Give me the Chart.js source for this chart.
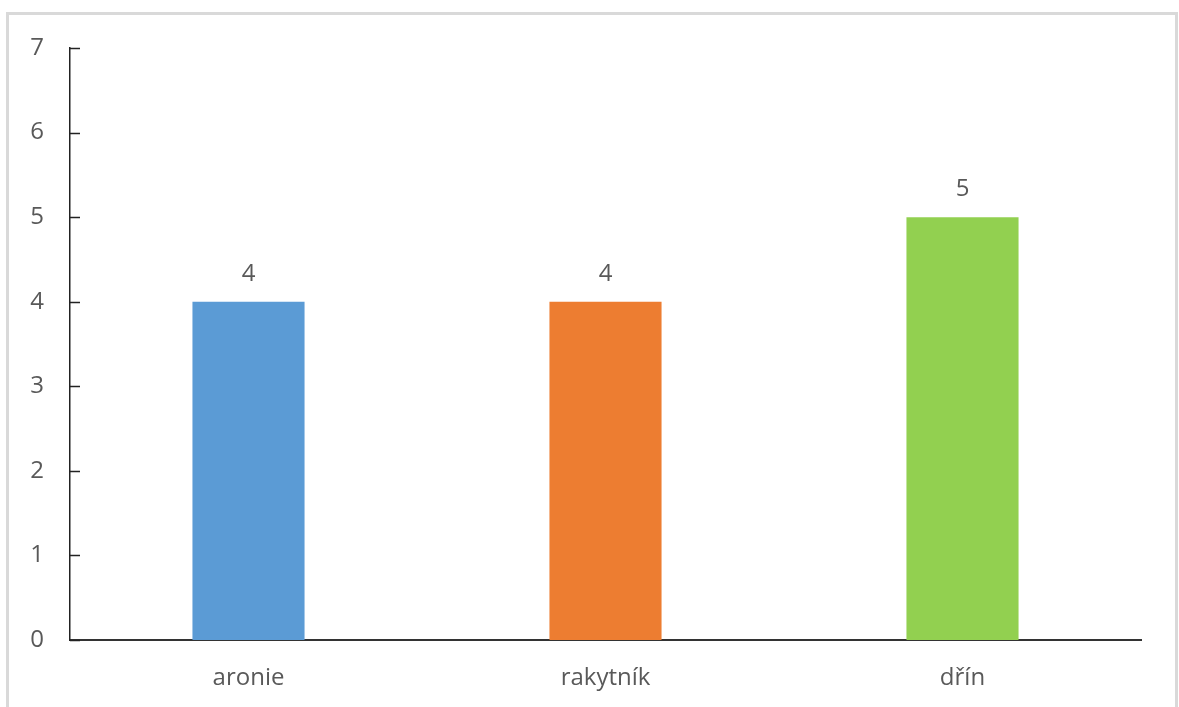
<!DOCTYPE html>
<html>
<head>
<meta charset="utf-8">
<script src="https://cdn.jsdelivr.net/npm/chart.js@4.4.1/dist/chart.umd.min.js"></script>
<style>
  html, body { margin: 0; padding: 0; background: #fff; overflow: hidden; }
  #frame { position: absolute; left: 6px; top: 12px; width: 1166px; height: 720px; border: 3px solid #d9d9d9; }
  #wrap { position: absolute; left: 0; top: 0; width: 1179px; height: 707px; }
</style>
</head>
<body>
<div id="frame"></div>
<div id="wrap"><canvas id="chart" width="1179" height="707"></canvas></div>
<script>
const categories = ['aronie', 'rakytník', 'dřín'];
const values = [4, 4, 5];
const barColors = ['#5b9bd5', '#ed7d31', '#92d050'];
const yTicks = [0, 1, 2, 3, 4, 5, 6, 7];

const FONT = "'Open Sans', sans-serif";
const TEXT = '#595959';

// small inward tick marks on the value axis + value labels over the bars
const extras = {
    id: 'extras',
    afterDatasetsDraw(chart) {
        const ctx = chart.ctx;
        const y = chart.scales.y;
        ctx.save();
        ctx.strokeStyle = '#222';
        ctx.lineWidth = 1.5;
        y.ticks.forEach((t, i) => {
            const py = Math.round(y.getPixelForTick(i)) + 0.5;
            ctx.beginPath();
            ctx.moveTo(y.right, py);
            ctx.lineTo(y.right + 10, py);
            ctx.stroke();
        });
        ctx.fillStyle = TEXT;
        ctx.font = '24px ' + FONT;
        ctx.textAlign = 'center';
        ctx.textBaseline = 'bottom';
        chart.getDatasetMeta(0).data.forEach((bar, i) => {
            ctx.fillText(String(values[i]), bar.x, bar.y - 16);
        });
        ctx.restore();
    }
};

new Chart(document.getElementById('chart'), {
    type: 'bar',
    data: {
        labels: categories,
        datasets: [{
            data: values,
            backgroundColor: barColors,
            categoryPercentage: 1,
            barPercentage: 0.314
        }]
    },
    options: {
        responsive: false,
        animation: false,
        layout: { padding: { top: 48, right: 38, bottom: 0, left: 0 } },
        plugins: { legend: { display: false }, tooltip: { enabled: false } },
        scales: {
            x: {
                grid: { display: false, drawTicks: false },
                border: { display: true, color: '#333', width: 2 },
                ticks: { color: TEXT, font: { family: FONT, size: 24 }, padding: 24 },
                afterFit: s => { s.height = 67; }
            },
            y: {
                min: 0, max: 7,
                afterBuildTicks: s => { s.ticks = yTicks.map(v => ({ value: v })); },
                grid: { display: false, drawTicks: false },
                border: { display: true, color: '#222', width: 1.5 },
                ticks: { color: TEXT, font: { family: FONT, size: 24 }, padding: 26 },
                afterFit: s => { s.width = 70; }
            }
        }
    },
    plugins: [extras]
});
</script>
</body>
</html>
